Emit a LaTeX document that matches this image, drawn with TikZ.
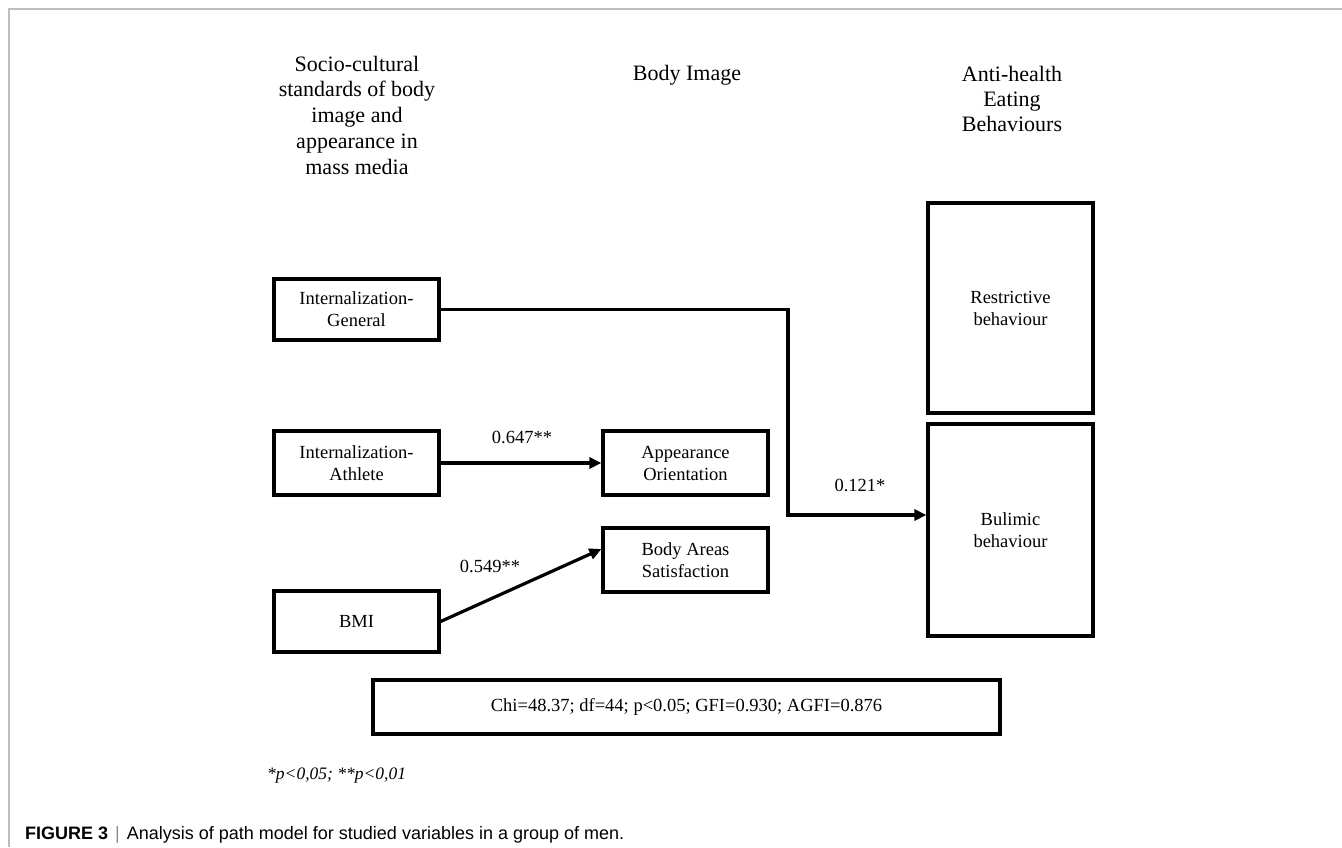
\documentclass[tikz,border=0pt]{standalone}
\usepackage{fontspec}
\setmainfont{Liberation Serif}
\setsansfont{Liberation Sans}
\usetikzlibrary{arrows.meta}
\definecolor{framegray}{RGB}{190,190,190}
\definecolor{bargray}{RGB}{140,140,140}
\begin{document}
\begin{tikzpicture}[x=1bp,y=-1bp,
  box/.style={draw, line width=3.2bp, inner sep=0pt, minimum width=165bp, align=center,
              font=\fontsize{18.5bp}{22bp}\selectfont},
  head/.style={align=center, inner sep=0pt, font=\fontsize{22bp}{25.75bp}\selectfont},
  lbl/.style={inner sep=0pt, font=\fontsize{18.5bp}{22bp}\selectfont},
  arr/.style={line width=3.2bp, -{Triangle[length=12bp,width=11bp]}},
]
\useasboundingbox (0,0) rectangle (1342,847);
\draw[framegray, line width=1.5bp] (9,847) -- (9,9) -- (1342,9);

% headings
\node[head] (h1) at (357,115) {Socio-cultural\\standards of body\\image and\\appearance in\\mass media};
\node[head] (h2) at (687,75) {Body Image};
\node[head, font=\fontsize{22bp}{25bp}\selectfont] (h3) at (1012,98.5) {Anti-health\\Eating\\Behaviours};

% boxes
\node[box, minimum height=61bp] (ig) at (356.5,309.5) {Internalization-\\General};
\node[box, minimum height=64bp] (ia) at (356.5,463) {Internalization-\\Athlete};
\node[box, minimum height=61bp] (bmi) at (356.5,621.5) {BMI};
\node[box, minimum height=64bp] (ao) at (685.5,463) {Appearance\\Orientation};
\node[box, minimum height=64bp] (bas) at (685.5,560) {Body Areas\\Satisfaction};
\node[box, minimum height=210bp] (rb) at (1010.5,308) {Restrictive\\behaviour};
\node[box, minimum height=212bp] (bb) at (1010.5,530) {Bulimic\\behaviour};
\node[box, minimum width=627bp, minimum height=54bp] (chi) at (686.5,707)
  {Chi=48.37; df=44; p<0.05; GFI=0.930; AGFI=0.876};

% connectors
\coordinate (k) at (788,515);
\draw[arr] (ig.east) -| (k) -- (k -| bb.west);
\draw[arr] (ia.east) -- (ao.west);
\draw[arr] (bmi.east) -- ([yshift=11bp]bas.west);

% labels
\node[lbl] (l1) at (522,437) {0.647**};
\node[lbl] (l2) at (490,566) {0.549**};
\node[lbl] (l3) at (860,485) {0.121*};

% footnote and caption
\node[anchor=west, inner sep=0pt, font=\itshape\fontsize{17.5bp}{20bp}\selectfont] (fn) at (267,776) {*p<0,05; **p<0,01};
\node[anchor=west, inner sep=0pt, font=\sffamily\fontsize{18bp}{20bp}\selectfont] (cap) at (25,835)
  {\textbf{FIGURE 3}\hspace{7bp}{\color{bargray}|}\hspace{7bp}Analysis of path model for studied variables in a group of men.};
\end{tikzpicture}
\end{document}
